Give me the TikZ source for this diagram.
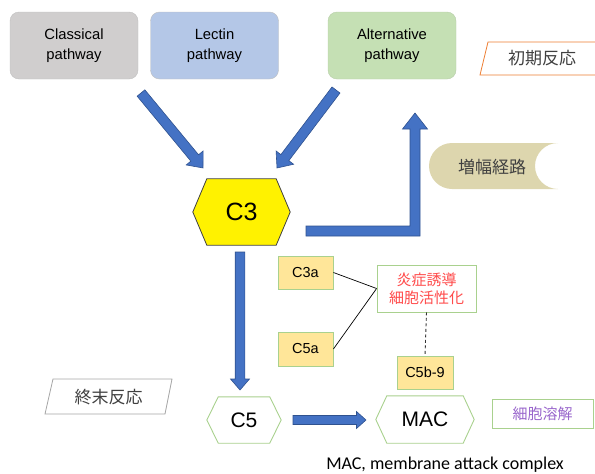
\documentclass[tikz,border=0pt]{standalone}
\usepackage{fontspec}
\setmainfont{Liberation Sans}
\newfontfamily\jpfont{Noto Sans CJK JP}
\newfontfamily\capfont{Carlito}
\usetikzlibrary{calc,backgrounds}
\definecolor{clgray}{HTML}{D0CECE}
\definecolor{clborder}{HTML}{BFBFBF}
\definecolor{lecblue}{HTML}{B4C7E7}
\definecolor{altgreen}{HTML}{C5E0B4}
\definecolor{arrblue}{HTML}{4472C4}
\definecolor{arrborder}{HTML}{2F528F}
\definecolor{boxyellow}{HTML}{FFE699}
\definecolor{boxgreen}{HTML}{A9D18E}
\definecolor{inflred}{HTML}{FF4B4B}
\definecolor{lyspurple}{HTML}{9966CC}
\definecolor{tan}{HTML}{DDD6AE}
\definecolor{orangeb}{HTML}{ED7D31}
\definecolor{grayb}{HTML}{A6A6A6}
\definecolor{txtgray}{HTML}{404040}
\newcommand\blockarrow[5]{%
  \path[barrow] let \p1=(#1), \p2=(#2), \n1={atan2(\y2-\y1,\x2-\x1)}, \n2={veclen(\x2-\x1,\y2-\y1)} in
    [shift={(\p1)}, rotate=\n1]
    (0pt,-#3pt) -- (\n2-#5pt,-#3pt) -- (\n2-#5pt,-#4pt) -- (\n2,0pt) -- (\n2-#5pt,#4pt) -- (\n2-#5pt,#3pt) -- (0pt,#3pt) -- cycle;}
\newcommand\hexagonbg[3]{%
  \begin{scope}[on background layer]
    \draw[#3] (#1.west) -- ([xshift=#2]#1.north west) -- ([xshift=-#2]#1.north east) -- (#1.east)
      -- ([xshift=-#2]#1.south east) -- ([xshift=#2]#1.south west) -- cycle;
  \end{scope}}
\begin{document}
\begin{tikzpicture}[x=1pt,y=-1pt,
  pathbox/.style={rounded corners=9pt, minimum width=128pt, minimum height=67pt, align=center,
    inner sep=0pt, font=\fontsize{14.8}{20}\selectfont, draw=clborder},
  barrow/.style={fill=arrblue, draw=arrborder, line width=0.6pt},
  smallbox/.style={draw=boxgreen, fill=boxyellow, line width=0.8pt, inner sep=0pt,
    font=\fontsize{14.5}{16}\selectfont},
  greenbox/.style={draw=boxgreen, fill=white, line width=0.8pt, inner sep=0pt, align=center},
  hexnode/.style={inner sep=0pt},
  jptag/.style={font=\jpfont\fontsize{17}{20}\selectfont, text=txtgray},
  conn/.style={draw=black, line width=0.7pt}]
\clip (0,0) rectangle (595,474);

% pathways
\node[pathbox, fill=clgray] (cl) at (74,45.5) {Classical\\pathway};
\node[pathbox, fill=lecblue] (lec) at (214.5,45.5) {Lectin\\pathway};
\node[pathbox, fill=altgreen, draw=altgreen!80!gray] (alt) at (392,45.5) {Alternative\\pathway};

% early reaction tag
\draw[orangeb, line width=0.8pt, fill=white] (480,75) -- (488,42) -- (610,42) -- (610,75) -- cycle;
\node[jptag] (early) at (542,58.5) {初期反応};

% C3
\node[hexnode, minimum width=97pt, minimum height=66pt, font=\fontsize{25}{28}\selectfont] (c3) at (241.5,212) {C3};
\hexagonbg{c3}{14pt}{fill=yellow, draw=txtgray, line width=0.8pt}

% arrows into C3
\coordinate (a1s) at (141,93);
\coordinate (a1e) at (203,168);
\coordinate (a2s) at (336,90);
\coordinate (a2e) at (277,168);
\blockarrow{a1s}{a1e}{5}{11}{13}
\blockarrow{a2s}{a2e}{5}{11}{13}

% amplification loop
\coordinate (els) at (306,231);
\path[barrow] (els) ++(0,-5) -- (410,226) -- (410,129) -- (402.5,129) -- (415,113) -- (427.5,129)
  -- (420,129) -- (420,236) -- (306,236) -- cycle;
\fill[tan] (452,143) -- (558,143) arc[start angle=90, end angle=270, radius=23pt]
  -- (452,189) arc[start angle=270, end angle=90, radius=23pt] -- cycle;
\node[jptag] (amp) at (492,167) {増幅経路};

% down arrow to C5
\coordinate (a3s) at (240,252);
\coordinate (a3e) at (240,390);
\blockarrow{a3s}{a3e}{4.8}{9.5}{11}

% C3a, C5a, inflammation
\node[smallbox, minimum width=55pt, minimum height=33pt] (c3a) at (305.5,272.5) {C3a};
\node[smallbox, minimum width=55pt, minimum height=34pt] (c5a) at (305.5,349) {C5a};
\node[greenbox, minimum width=99pt, minimum height=47pt, text=inflred,
  font=\jpfont\fontsize{15}{18}\selectfont] (infl) at (426.5,288.5) {炎症誘導\\細胞活性化};
\draw[conn] (c3a.east) -- (infl.west);
\draw[conn] (c5a.east) -- (infl.west);
\node[smallbox, minimum width=56pt, minimum height=33pt] (c5b9) at (425,372.5) {C5b-9};
\draw[conn, dash pattern=on 3pt off 2.5pt, draw=black!80, line width=0.9pt] (infl.south) -- (c5b9.north);

% terminal reaction tag
\draw[grayb, line width=0.8pt, fill=white] (45,414) -- (53,379) -- (172,379) -- (165,414) -- cycle;
\node[jptag] (term) at (108.5,397) {終末反応};

% C5 and MAC
\node[hexnode, minimum width=74pt, minimum height=46pt, font=\fontsize{21}{24}\selectfont] (c5) at (244,420) {C5};
\hexagonbg{c5}{11.5pt}{fill=white, draw=boxgreen, line width=0.9pt}
\node[hexnode, minimum width=98pt, minimum height=47pt, font=\fontsize{21}{24}\selectfont] (mac) at (425,419.5) {MAC};
\hexagonbg{mac}{11pt}{fill=white, draw=boxgreen, line width=0.9pt}
\coordinate (a4s) at (293,420);
\coordinate (a4e) at (366,420);
\blockarrow{a4s}{a4e}{4.5}{8.5}{9.5}

% lysis
\node[greenbox, minimum width=101pt, minimum height=29pt, text=lyspurple,
  font=\jpfont\fontsize{15}{16}\selectfont] (lys) at (542.5,413.5) {細胞溶解};

% caption
\node[font=\capfont\fontsize{18}{20}\selectfont] (cap) at (445,465) {MAC, membrane attack complex};
\end{tikzpicture}
\end{document}
